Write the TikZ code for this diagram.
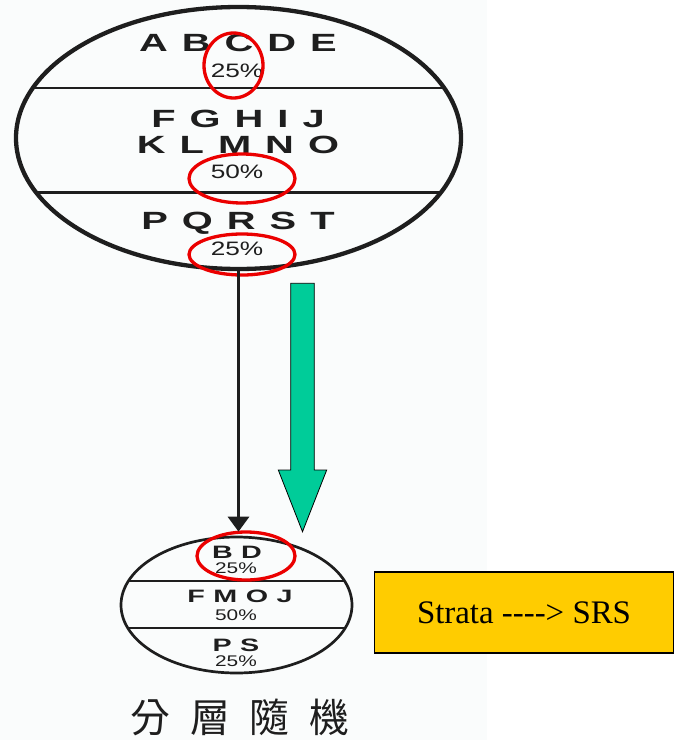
\documentclass[tikz,border=0pt]{standalone}
\usepackage{fontspec}
\usepackage{xcolor}
\newfontfamily\wideface[FakeStretch=1.35]{Liberation Sans}
\newfontfamily\capsface[FakeStretch=1.6]{Liberation Sans Bold}
\newfontfamily\boxface{Liberation Serif}
\newfontfamily\cjk{Noto Sans CJK TC}
\definecolor{ink}{RGB}{30,30,30}
\definecolor{ringred}{RGB}{235,0,0}
\definecolor{stratagreen}{RGB}{0,204,153}
\definecolor{stratayellow}{RGB}{255,204,0}
\definecolor{paper}{RGB}{250,252,252}
\usetikzlibrary{
    shapes.geometric,
    arrows.meta,
    positioning
}
\tikzstyle{link} = [
    line width=3.3bp,
    draw=ink,
    -{Triangle[width=21bp,length=15bp]}
]

\begin{document}
\begin{tikzpicture}[
  x=1bp, y=-1bp,
  population/.style={draw=ink, ellipse, line width=4.3bp, minimum width=445bp, minimum height=262bp, inner sep=0pt},
  sample/.style={draw=ink, ellipse, line width=2.7bp, minimum width=231bp, minimum height=136bp, inner sep=0pt},
  divider/.style={draw=ink, line width=2.5bp},
  ring/.style={draw=ringred, ellipse, line width=3.3bp, inner sep=0pt},
  spread/.style={execute at begin node={\spaceskip=#1\relax}},
  bigcaps/.style={anchor=base, inner sep=0pt, text=ink, font=\capsface\fontsize{25}{25}\selectfont, spread=14bp},
  bigpct/.style={anchor=base, inner sep=0pt, text=ink, font=\wideface\fontsize{19.5}{19.5}\selectfont},
  smallcaps/.style={anchor=base, inner sep=0pt, text=ink, font=\capsface\fontsize{18}{18}\selectfont, spread=8.5bp},
  smallpct/.style={anchor=base, inner sep=0pt, text=ink, font=\wideface\fontsize{15.5}{15.5}\selectfont},
  strata/.style={draw=black, fill=stratayellow, line width=1.3bp, minimum width=299bp, minimum height=81bp, inner sep=0pt, font=\boxface\fontsize{33}{33}\selectfont},
  title/.style={anchor=base, inner sep=0pt, text=ink, font=\cjk\fontsize{40}{40}\selectfont, spread=20bp}
]

\useasboundingbox (0,0) rectangle (680,740);
\fill[paper] (0,0) rectangle (487,740);

\node[population] (big)   at (238.5,138) {};
\node[sample]     (small) at (236.5,605) {};

\begin{scope}
  \clip (big.center) ellipse [x radius=222.5bp, y radius=131bp];
  \draw[divider] ([yshift=50bp]big.west)   -- ([yshift=50bp]big.east);
  \draw[divider] ([yshift=-54.5bp]big.west) -- ([yshift=-54.5bp]big.east);
\end{scope}
\begin{scope}
  \clip (small.center) ellipse [x radius=115.5bp, y radius=68bp];
  \draw[divider, line width=2bp] ([yshift=24bp]small.west)  -- ([yshift=24bp]small.east);
  \draw[divider, line width=2bp] ([yshift=-23bp]small.west) -- ([yshift=-23bp]small.east);
\end{scope}

\node[bigcaps] (abcde) at (238,52)  {A B C D E};
\node[bigpct]  (pctA)  at (237,77)  {25\%};
\node[bigcaps] (fghij) at (238,127) {F G H I J};
\node[bigcaps] (klmno) at (238,153) {K L M N O};
\node[bigpct]  (pctB)  at (237,178) {50\%};
\node[bigcaps] (pqrst) at (238,229) {P Q R S T};
\node[bigpct]  (pctC)  at (237,255) {25\%};

\node[smallcaps] (bd)   at (237,558) {B D};
\node[smallpct]  (pctD) at (236,573) {25\%};
\node[smallcaps] (fmoj) at (240,602) {F M O J};
\node[smallpct]  (pctE) at (236,620) {50\%};
\node[smallcaps] (ps)   at (236,651) {P S};
\node[smallpct]  (pctF) at (236,666) {25\%};

\node[ring, minimum width=59bp,  minimum height=65bp] (ringA) at (233.5,65.5) {};
\node[ring, minimum width=106bp, minimum height=49bp] (ringB) at (242,178.5) {};
\node[ring, minimum width=106bp, minimum height=41bp] (ringC) at (242,254.5) {};
\node[ring, minimum width=98bp,  minimum height=48bp] (ringD) at (246,556) {};

\draw[link] (big.south) -- ([yshift=4bp]big.south |- small.north);

\filldraw[fill=stratagreen, draw=black, line width=0.8bp]
  (290.7,283.3) -- (314.3,283.3) -- (314.3,470) -- (326.7,470)
  -- (302.5,531.7) -- (278.3,470) -- (290.7,470) -- cycle;

\node[strata, right=20.5bp of small, yshift=-7.5bp] (srs) {Strata -{}-{}-{}-{}> SRS};

\node[title] (caption) at (240,732) {分 層 隨 機};

\end{tikzpicture}
\end{document}
